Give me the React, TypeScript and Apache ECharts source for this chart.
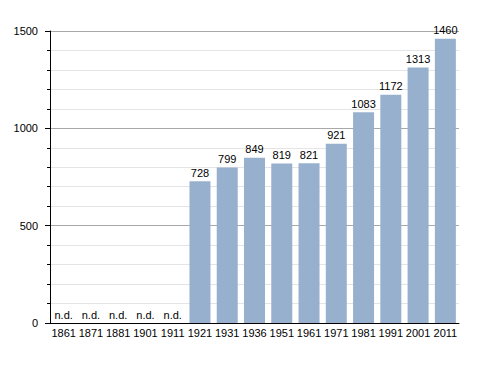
import React, { useEffect, useRef } from "react";
import * as echarts from "echarts";

const years = ["1861", "1871", "1881", "1901", "1911", "1921", "1931", "1936", "1951", "1961", "1971", "1981", "1991", "2001", "2011"];
const population: (number | null)[] = [null, null, null, null, null, 728, 799, 849, 819, 821, 921, 1083, 1172, 1313, 1460];
const yTicks = [0, 500, 1000, 1500];

export default function App() {
  const ref = useRef<HTMLDivElement>(null);
  useEffect(() => {
    if (!ref.current) return;
    const chart = echarts.init(ref.current, undefined, { renderer: "svg" });
    const font = "'Liberation Sans', Arial, sans-serif";
    chart.setOption({
      animation: false,
      backgroundColor: "#ffffff",
      grid: { left: 50, right: 29, top: 31, bottom: 50, containLabel: false },
      xAxis: {
        type: "category",
        data: years,
        axisLine: { show: true, lineStyle: { color: "#000", width: 1 } },
        axisTick: { show: false },
        axisLabel: { color: "#000", fontSize: 11, fontFamily: font, margin: 4, interval: 0 },
        splitLine: { show: false },
      },
      yAxis: {
        type: "value",
        min: yTicks[0],
        max: yTicks[yTicks.length - 1],
        interval: 500,
        axisLine: { show: true, lineStyle: { color: "#000", width: 1 } },
        axisTick: { show: true, length: 5, lineStyle: { color: "#000" } },
        minorTick: { show: true, splitNumber: 5, length: 3, lineStyle: { color: "#000" } },
        axisLabel: {
          color: "#000",
          fontSize: 11,
          fontFamily: font,
          margin: 12,
          formatter: (v: number) => String(v),
        },
        splitLine: { show: true, lineStyle: { color: "#a8a8a8", width: 1 } },
        minorSplitLine: { show: true, lineStyle: { color: "#e4e4e4", width: 1 } },
      },
      series: [
        {
          type: "bar",
          data: population.map((v) => (v === null ? 0 : v)),
          barWidth: "77%",
          itemStyle: { color: "#97b0cd" },
          label: {
            show: true,
            position: "top",
            distance: 3,
            color: "#000",
            fontSize: 11,
            fontFamily: font,
            formatter: (p: any) => (population[p.dataIndex] === null ? "n.d." : String(p.value)),
          },
        },
      ],
    });
    return () => chart.dispose();
  }, []);
  return <div ref={ref} style={{ width: 488, height: 373, position: "absolute", left: 0, top: 0 }} />;
}
